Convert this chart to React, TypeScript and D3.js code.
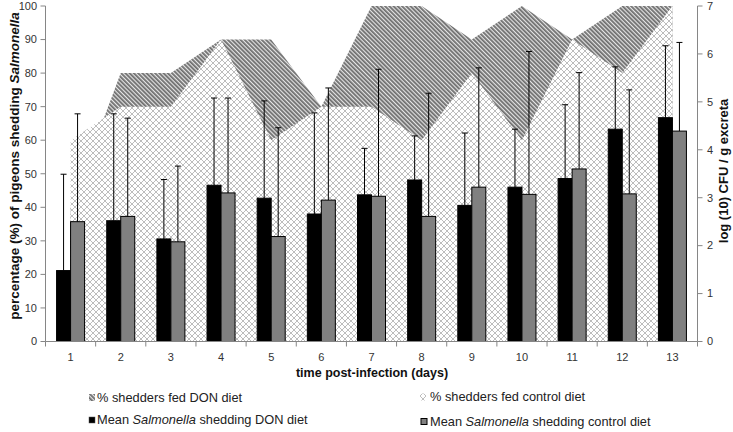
import * as d3 from "d3";
import React from "react";

const days = ["1", "2", "3", "4", "5", "6", "7", "8", "9", "10", "11", "12", "13"];
// % of pigeons shedding (left axis)
const donShedders = [40, 80, 80, 90, 90, 70, 100, 100, 90, 100, 90, 100, 100];
const controlShedders = [60, 70, 70, 90, 60, 70, 70, 60, 80, 60, 90, 80, 100];
// mean log10 CFU / g excreta (right axis) and upper error
const meanDon = [1.48, 2.52, 2.14, 3.26, 2.99, 2.66, 3.06, 3.37, 2.84, 3.22, 3.4, 4.43, 4.67];
const meanControl = [2.5, 2.61, 2.08, 3.1, 2.19, 2.95, 3.03, 2.61, 3.22, 3.07, 3.6, 3.08, 4.39];
const sdDon = [2.01, 2.23, 1.24, 1.82, 2.03, 2.11, 0.97, 0.92, 1.51, 1.21, 1.54, 1.3, 1.5];
const sdControl = [2.25, 2.05, 1.58, 1.98, 2.27, 2.34, 2.65, 2.57, 2.49, 2.98, 2.01, 2.17, 1.85];
const leftTicks = [0, 10, 20, 30, 40, 50, 60, 70, 80, 90, 100];
const rightTicks = [0, 1, 2, 3, 4, 5, 6, 7];

const W = 733, H = 432;
const left = 45.5, right = 697.5, top = 6, bottom = 341.5;
const font = "'Liberation Sans', Arial, sans-serif";

const x = d3.scaleBand().domain(days).range([left, right]);
const yL = d3.scaleLinear().domain([0, 100]).range([bottom, top]);
const yR = d3.scaleLinear().domain([0, 7]).range([bottom, top]);
const barW = 14;

const area = (vals: number[]) =>
  d3.area<number>()
    .x((_v, i) => x(days[i])! + x.bandwidth() / 2)
    .y0(yL(0))
    .y1((v) => yL(v))(vals) || "";

export default function App() {
  const bw = x.bandwidth();
  const bars = (vals: number[], sds: number[], off: number, fill: string) =>
    vals.map((v, i) => {
      const x0 = x(days[i])! + bw / 2 + off;
      const cx = x0 + barW / 2;
      const yt = yR(v + sds[i]);
      return (
        <g key={i}>
          <rect x={x0} y={yR(v)} width={barW} height={yR(0) - yR(v)} fill={fill} stroke="#000" strokeWidth={1} />
          <line x1={cx} x2={cx} y1={yR(v)} y2={yt} stroke="#000" strokeWidth={1} />
          <line x1={cx - 3} x2={cx + 3} y1={yt} y2={yt} stroke="#000" strokeWidth={1} />
        </g>
      );
    });

  return (
    <div style={{ position: "absolute", left: 0, top: 0 }}>
      <svg width={W} height={H} style={{ display: "block", background: "#fff" }} fontFamily={font}>
        <defs>
          <pattern id="stripes" width={3} height={3} patternUnits="userSpaceOnUse" patternTransform="rotate(-45)">
            <rect width={3} height={3} fill="#e6e6e6" />
            <rect width={1.8} height={3} fill="#6e6e6e" />
          </pattern>
          <pattern id="cross" width={6} height={6} patternUnits="userSpaceOnUse">
            <rect width={6} height={6} fill="#fff" />
            <path d="M0,0 L6,6 M6,0 L0,6" stroke="#bdbdbd" strokeWidth={1} />
          </pattern>
        </defs>

        <path d={area(donShedders)} fill="url(#stripes)" />
        <path d={area(controlShedders)} fill="url(#cross)" />

        {bars(meanDon, sdDon, -barW, "#000")}
        {bars(meanControl, sdControl, 0, "#808080")}

        {/* left axis */}
        <line x1={left} x2={left} y1={top} y2={bottom} stroke="#868686" />
        {leftTicks.map((t) => (
          <g key={t}>
            <line x1={left - 5} x2={left} y1={yL(t)} y2={yL(t)} stroke="#868686" />
            <text x={37} y={yL(t)} dy="0.35em" textAnchor="end" fontSize={11} fill="#333">{t}</text>
          </g>
        ))}
        {/* right axis */}
        <line x1={right} x2={right} y1={top} y2={bottom} stroke="#868686" />
        {rightTicks.map((t) => (
          <g key={t}>
            <line x1={right} x2={right + 5} y1={yR(t)} y2={yR(t)} stroke="#868686" />
            <text x={707} y={yR(t)} dy="0.35em" fontSize={11} fill="#333">{t}</text>
          </g>
        ))}
        {/* x axis */}
        <line x1={left} x2={right} y1={bottom} y2={bottom} stroke="#868686" />
        {days.map((d) => (
          <g key={d}>
            <line x1={x(d)!} x2={x(d)!} y1={bottom} y2={bottom + 5} stroke="#868686" />
            <text x={x(d)! + bw / 2} y={357} dy="0.35em" textAnchor="middle" fontSize={11} fill="#333">{d}</text>
          </g>
        ))}
        <line x1={right} x2={right} y1={bottom} y2={bottom + 5} stroke="#868686" />

        <text x={372} y={373} dy="0.35em" textAnchor="middle" fontSize={12.5} fontWeight="bold" fill="#111">time post-infection (days)</text>
        <text transform="translate(14,166) rotate(-90)" dy="0.35em" textAnchor="middle" fontSize={13.5} fontWeight="bold" fill="#111">
          percentage (%) of pigeons shedding <tspan fontStyle="italic">Salmonella</tspan>
        </text>
        <text transform="translate(723,171) rotate(-90)" dy="0.35em" textAnchor="middle" fontSize={13} fontWeight="bold" fill="#111">
          log (10) CFU / g excreta
        </text>

        {/* legend */}
        <g fontSize={12.8} fill="#222">
          <rect x={89} y={394} width={6} height={7} fill="url(#stripes)" />
          <text x={97} y={398} dy="0.35em">% shedders fed DON diet</text>
          <rect x={420} y={393.5} width={6} height={7} fill="url(#cross)" />
          <text x={430} y={397} dy="0.35em">% shedders fed control diet</text>
          <rect x={89} y={417} width={6} height={6} fill="#000" stroke="#555" strokeWidth={0.5} />
          <text x={97} y={420} dy="0.35em">Mean <tspan fontStyle="italic">Salmonella</tspan> shedding DON diet</text>
          <rect x={421} y={418.5} width={6} height={6} fill="#808080" stroke="#000" strokeWidth={1} />
          <text x={430} y={422} dy="0.35em">Mean <tspan fontStyle="italic">Salmonella</tspan> shedding control diet</text>
        </g>
      </svg>
    </div>
  );
}
